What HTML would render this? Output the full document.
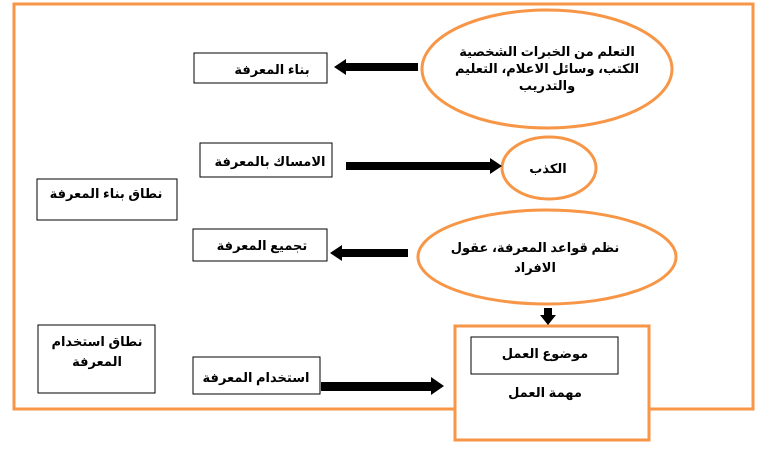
<!DOCTYPE html>
<html><head><meta charset="utf-8"><style>
html,body{margin:0;padding:0;background:#fff;}
svg text{font-family:"Liberation Sans","DejaVu Sans",sans-serif;font-weight:bold;font-size:13px;fill:#000;}
</style></head><body>
<svg width="762" height="460" xmlns="http://www.w3.org/2000/svg">
<rect x="0" y="0" width="762" height="460" fill="#fff"/>
<rect x="14" y="4" width="739" height="405" fill="none" stroke="#f79646" stroke-width="3"/>
<g fill="#fff" stroke="#000" stroke-width="1">
<rect x="194" y="53" width="133" height="30"/>
<rect x="200" y="143" width="132" height="34"/>
<rect x="37" y="179" width="140" height="41"/>
<rect x="193" y="229" width="134" height="32"/>
<rect x="38" y="325" width="117" height="68"/>
<rect x="193" y="357" width="127" height="37"/>
</g>
<rect x="455" y="326" width="194" height="114" fill="#fff" stroke="#f79646" stroke-width="3"/>
<rect x="471" y="337" width="147" height="37" fill="#fff" stroke="#000" stroke-width="1"/>
<g fill="#fff" stroke="#f79646" stroke-width="3">
<ellipse cx="547" cy="69" rx="125" ry="59"/>
<ellipse cx="549" cy="168" rx="47" ry="31"/>
<ellipse cx="547" cy="257" rx="129" ry="47"/>
</g>
<g fill="#000">
<rect x="344" y="63" width="74" height="8"/><polygon points="334,67 346,59 346,75"/>
<rect x="346" y="162" width="144" height="8"/><polygon points="502,166 490,158 490,174"/>
<rect x="340" y="249" width="68" height="8"/><polygon points="330,253 342,245 342,261"/>
<rect x="321" y="382" width="110" height="9"/><polygon points="444,386 431,377 431,395"/>
<rect x="544" y="308" width="8" height="8"/><polygon points="548,325 540,315 556,315"/>
</g>
<g text-anchor="middle" direction="rtl">
<text x="272" y="74">بناء المعرفة</text>
<text x="270" y="166">الامساك بالمعرفة</text>
<text x="106" y="198">نطاق بناء المعرفة</text>
<text x="262" y="250">تجميع المعرفة</text>
<text x="97" y="346">نطاق استخدام</text>
<text x="97" y="366">المعرفة</text>
<text x="256" y="382">استخدام المعرفة</text>
<text x="547" y="56" font-size="12">التعلم من الخبرات الشخصية</text>
<text x="547" y="73" font-size="12">الكتب، وسائل الاعلام، التعليم</text>
<text x="547" y="90" font-size="12">والتدريب</text>
<text x="548" y="173">الكذب</text>
<text x="535" y="252">نظم قواعد المعرفة، عقول</text>
<text x="535" y="272">الافراد</text>
<text x="545" y="358">موضوع العمل</text>
<text x="545" y="397">مهمة العمل</text>
</g>
</svg>
</body></html>
